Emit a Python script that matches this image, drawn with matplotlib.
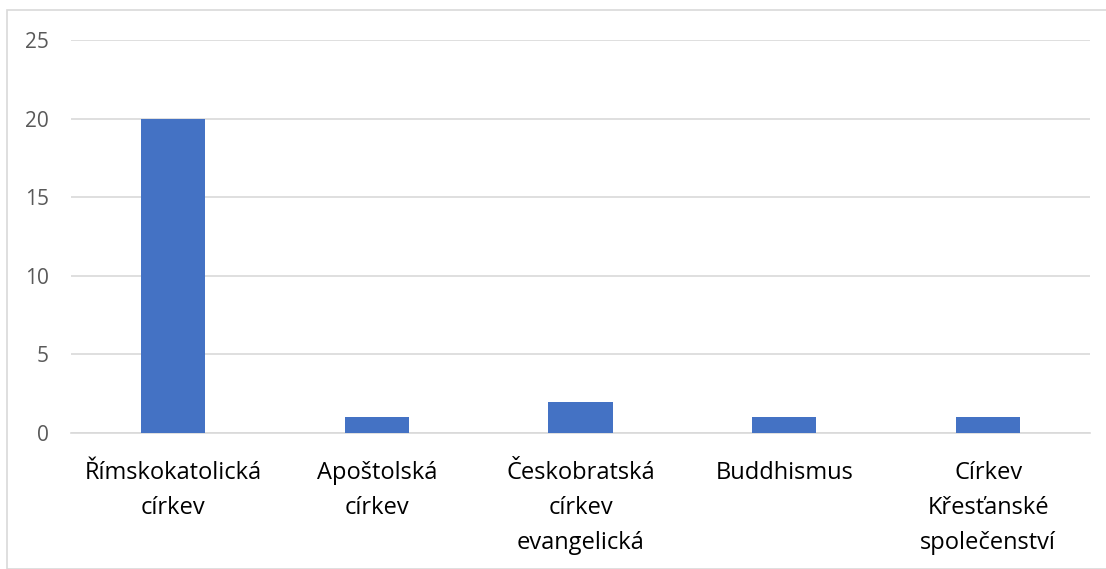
import matplotlib.pyplot as plt
from matplotlib.patches import Rectangle

categories = [
    "Římskokatolická\ncírkev",
    "Apoštolská\ncírkev",
    "Českobratská\ncírkev\nevangelická",
    "Buddhismus",
    "Církev\nKřesťanské\nspolečenství",
]
values = [20, 1, 2, 1, 1]
yticks = [0, 5, 10, 15, 20, 25]

plt.rcParams["font.family"] = ["Open Sans", "DejaVu Sans"]

fig = plt.figure(figsize=(11.06, 5.69), dpi=100)
ax = fig.add_axes([0.0642, 0.239, 0.9213, 0.6907])

# chart border like an Excel chart area
fig.patches.append(Rectangle((7 / 1106, 0), 1.2, 1 - 10 / 569,
                             transform=fig.transFigure, fill=False,
                             edgecolor="#D9D9D9", linewidth=1.2))

x = range(len(categories))
ax.bar(x, values, width=0.315, color="#4472C4", zorder=3)

ax.set_xlim(-0.5, len(categories) - 0.5)
ax.set_ylim(0, 25)
ax.set_yticks(yticks)
ax.set_xticks(list(x))
ax.set_xticklabels(categories, fontsize=17, color="#000000", linespacing=1.63,
                   va="top")
ax.tick_params(axis="x", length=0, pad=20)
ax.tick_params(axis="y", length=0, pad=16, labelsize=15, labelcolor="#595959")

ax.grid(axis="y", color="#D9D9D9", linewidth=1.2, zorder=0)
for s in ["top", "right", "left"]:
    ax.spines[s].set_visible(False)
ax.spines["bottom"].set_color("#D9D9D9")
ax.spines["bottom"].set_linewidth(1.2)

fig.savefig("out.png", dpi=100)
